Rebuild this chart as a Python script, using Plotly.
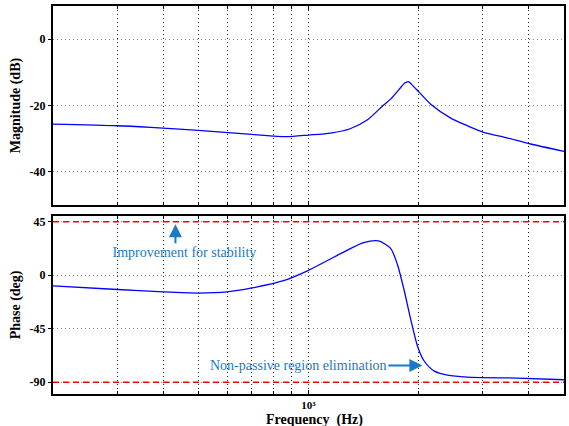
import plotly.graph_objects as go
from plotly.subplots import make_subplots

# ---- data ----
mag_freq = [200, 300, 370, 500, 700, 870, 1000, 1150, 1300, 1450, 1600, 1680, 1790,
            1830, 1875, 1940, 2000, 2160, 2450, 2720, 3000, 3500, 4050, 5000]
mag_db = [-25.6, -26.1, -26.6, -27.5, -28.7, -29.4, -28.9, -28.3, -27.0, -24.3, -20.0,
          -18.0, -14.5, -13.3, -12.8, -14.3, -15.8, -19.6, -23.8, -26.1, -28.0, -29.8,
          -31.6, -33.8]

ph_freq = [200, 300, 400, 500, 600, 700, 850, 1000, 1240, 1415, 1555, 1677, 1750,
           1824, 1903, 1986, 2070, 2204, 2400, 2721, 3730, 5000]
ph_deg = [-9.0, -12.0, -14.0, -15.0, -14.0, -10.7, -4.8, 4.2, 19.1, 27.5, 28.9, 22.7,
          9.3, -11.8, -37.0, -59.5, -72.0, -80.5, -84.1, -85.8, -86.6, -88.0]

limit_freq = [200, 5000]
upper_limit = [45, 45]
lower_limit = [-90, -90]

major_freqs = [1000]
major_text = ["<b>10\u00b3</b>"]
minor_freqs = [300, 400, 500, 600, 700, 800, 900, 2000, 3000, 4000]

mag_ticks = [-40, -20, 0]
ph_ticks = [-90, -45, 0, 45]

FONT = "Liberation Serif, Times New Roman, DejaVu Serif, serif"
BLUE = "#1a7ac4"

fig = make_subplots(rows=2, cols=1, shared_xaxes=False, vertical_spacing=0.028)

fig.add_trace(go.Scatter(x=mag_freq, y=mag_db, mode="lines",
                         line=dict(color="#0000ff", width=1.3, shape="spline", smoothing=0.7),
                         showlegend=False), row=1, col=1)
fig.add_trace(go.Scatter(x=ph_freq, y=ph_deg, mode="lines",
                         line=dict(color="#0000ff", width=1.3, shape="spline", smoothing=0.7),
                         showlegend=False), row=2, col=1)
for lim in (upper_limit, lower_limit):
    fig.add_trace(go.Scatter(x=limit_freq, y=lim, mode="lines",
                             line=dict(color="#ff0000", width=1.5, dash="6px,4px"),
                             showlegend=False), row=2, col=1)

GRIDX = dict(gridcolor="#222222", griddash="1px,3px", gridwidth=1)
xcommon = dict(type="log", range=[2.30103, 3.69897], tickvals=major_freqs,
               showgrid=True, **GRIDX,
               minor=dict(tickvals=minor_freqs, showgrid=True, ticks="inside",
                          ticklen=3, tickcolor="black", **GRIDX),
               showline=True, linecolor="black", linewidth=2, mirror="ticks",
               ticks="inside", ticklen=4, tickcolor="black", zeroline=False,
               automargin=False)
fig.update_xaxes(**xcommon, showticklabels=False, row=1, col=1)
fig.update_xaxes(**xcommon, ticktext=major_text, row=2, col=1,
                 tickfont=dict(family=FONT, size=11, color="black"))

ycommon = dict(showgrid=True, gridcolor="#888888", griddash="1px,3px", gridwidth=1,
               showline=True, linecolor="black", linewidth=2, mirror=True,
               ticks="outside", ticklen=3, tickcolor="black", zeroline=False,
               automargin=False,
               tickfont=dict(family=FONT, size=12, color="black"))
fig.update_yaxes(**ycommon, range=[-50, 10], tickvals=mag_ticks,
                 ticktext=[f"<b>{v}</b>" for v in mag_ticks],
                 title=dict(text="<b>Magnitude (dB)</b>", standoff=6,
                            font=dict(family=FONT, size=14, color="black")),
                 row=1, col=1)
fig.update_yaxes(**ycommon, range=[-100, 50], tickvals=ph_ticks,
                 ticktext=[f"<b>{v}</b>" for v in ph_ticks],
                 title=dict(text="<b>Phase (deg)</b>", standoff=6,
                            font=dict(family=FONT, size=14, color="black")),
                 row=2, col=1)

fig.update_layout(
    width=569, height=426,
    margin=dict(l=53, r=5, t=6, b=32),
    paper_bgcolor="white", plot_bgcolor="white",
    font=dict(family=FONT, color="black"),
)
fig.update_yaxes(domain=[0.487, 1.0], row=1, col=1)
fig.update_yaxes(domain=[0.0, 0.459], row=2, col=1)

# x-axis title
fig.add_annotation(x=3.0 + (314 - 308) / 365.0, y=-0.04, xref="x2", yref="paper",
                   yanchor="top", text="<b>Frequency\u00a0\u00a0(Hz)</b>", showarrow=False,
                   font=dict(family=FONT, size=14, color="black"))

# annotations (text + arrow in one)
NB = "\u00a0"
fig.add_annotation(x=2.636, y=43, xref="x2", yref="y2",
                   text=NB * 5 + "Improvement for stability",
                   showarrow=True, ax=0, ay=28, arrowhead=2, arrowsize=1.3,
                   arrowwidth=2, arrowcolor=BLUE, standoff=0,
                   font=dict(family=FONT, size=14, color=BLUE))
fig.add_annotation(x=3.3115, y=-76, xref="x2", yref="y2",
                   text="Non-passive region elimination",
                   showarrow=True, ax=-124, ay=0, arrowhead=2, arrowsize=1.3,
                   arrowwidth=2, arrowcolor=BLUE, standoff=0,
                   font=dict(family=FONT, size=14, color=BLUE))

fig.write_html("out.html")
